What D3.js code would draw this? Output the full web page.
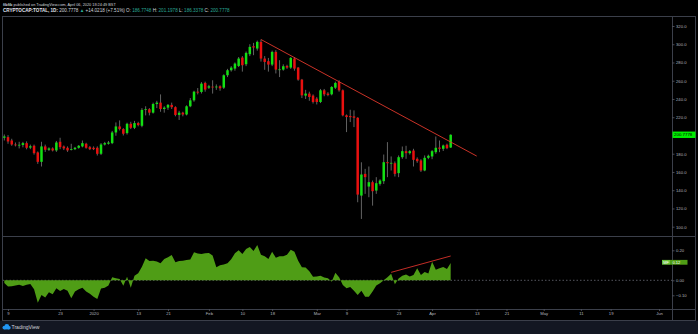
<!DOCTYPE html>
<html>
<head>
<meta charset="utf-8">
<script src="https://cdn.jsdelivr.net/npm/d3@7"></script>
<style>
html, body { margin: 0; padding: 0; background: #000; }
svg { display: block; font-family: "Liberation Sans", Arial, sans-serif; }
</style>
</head>
<body>
<div id="chart"></div>
<script>
// daily candles, first bar 2019-12-08 (UTC)
const firstDay = Date.UTC(2019, 11, 8);

const opens = [
197.5,198.2,194.5,190.1,189.4,189.6,191.6,186.7,188.7,181.4,
171.1,188.0,184.3,185.8,183.6,193.1,187.9,186.5,184.6,185.0,
186.5,188.0,190.9,187.2,186.5,186.5,179.9,190.1,190.9,191.6,
203.3,209.9,207.0,202.6,212.8,208.4,213.6,210.6,228.0,228.8,
225.0,234.5,236.0,229.0,230.5,233.5,231.0,222.5,225.0,223.0,
232.0,238.5,248.0,247.7,257.6,252.4,253.5,253.0,253.9,252.4,
266.0,271.5,273.3,276.2,285.4,278.1,289.1,297.8,295.3,302.6,
284.3,281.4,277.7,291.6,272.2,272.2,276.2,274.4,284.3,274.4,
261.2,243.7,245.9,243.7,240.4,236.7,249.5,245.9,245.1,252.4,
258.7,249.5,222.1,221.3,220.9,219.4,134.1,157.9,144.0,148.8,
139.6,146.9,149.9,170.7,169.6,169.6,158.7,176.2,182.8,180.6,
183.5,174.4,172.6,161.6,175.5,177.0,181.7,186.8,185.4,189.8,
186.7748];

const highs = [
201.1,200.4,196.4,192.3,193.1,193.0,193.5,190.0,190.0,182.5,
193.1,190.0,187.0,187.0,194.0,197.5,189.0,188.0,190.9,187.5,
189.5,194.5,192.0,188.5,188.0,188.0,191.6,193.0,194.0,205.0,
214.3,216.5,208.0,214.0,215.0,216.0,215.0,230.0,232.0,230.0,
236.0,238.0,245.0,232.0,234.5,236.0,232.0,227.0,226.0,233.0,
241.0,249.0,252.0,258.5,259.0,255.5,260.5,256.0,255.0,267.0,
273.0,276.0,280.0,286.0,287.0,292.0,300.0,301.5,304.0,305.2,
287.0,285.0,293.0,293.5,282.5,278.0,277.5,286.0,286.0,275.0,
262.0,250.0,248.0,245.0,242.0,251.0,251.0,247.5,254.0,259.0,
260.5,250.5,223.0,228.2,227.5,220.0,170.6,163.4,166.0,150.6,
154.3,152.0,179.1,192.7,177.0,171.5,178.1,187.9,188.7,184.0,
185.4,176.0,174.0,178.1,179.0,184.0,198.9,194.5,190.0,191.0,
201.1978];

const lows = [
194.5,190.9,188.7,188.0,185.8,187.0,184.8,185.0,179.0,168.9,
166.0,182.0,183.0,182.5,182.0,185.0,184.0,182.0,183.6,184.0,
185.5,187.0,185.5,184.0,184.0,178.0,178.5,189.0,190.0,190.5,
199.7,205.5,200.0,201.0,207.0,207.0,210.0,209.0,222.0,222.0,
224.0,230.0,226.0,225.0,228.0,229.0,221.0,217.0,221.0,222.0,
231.0,237.0,245.0,246.0,248.0,251.0,245.9,250.0,249.0,251.0,
264.0,270.0,271.0,275.0,270.0,276.0,287.0,288.0,293.0,281.0,
272.0,270.0,276.0,268.0,264.0,271.0,273.0,273.0,271.0,260.0,
241.0,240.0,238.0,235.0,234.0,235.5,243.0,243.0,244.0,251.0,
248.0,221.0,203.7,214.7,209.2,126.8,108.5,136.0,132.3,123.1,
136.0,145.0,146.9,154.3,161.6,155.0,154.3,174.4,174.4,179.0,
166.0,170.0,160.0,160.8,174.0,174.0,179.9,181.7,183.0,185.0,
186.3378];

const closes = [
198.9,193.4,190.1,189.4,189.8,191.6,186.5,188.2,180.6,171.1,
188.0,184.3,185.8,183.6,192.3,187.2,185.8,183.6,185.0,186.5,
188.7,191.6,186.5,185.0,185.0,179.9,190.1,191.6,192.3,203.3,
209.9,207.0,201.9,212.8,208.4,213.6,211.4,228.0,228.8,225.0,
234.5,236.0,229.0,230.5,233.5,231.0,222.5,225.0,223.0,232.0,
238.5,248.0,247.0,256.8,250.3,253.9,253.0,253.6,251.7,266.0,
271.5,274.4,278.8,284.3,277.0,290.5,297.1,296.4,302.6,284.3,
280.6,277.7,291.6,272.2,272.5,275.9,274.4,285.0,273.3,261.2,
244.0,245.9,242.2,236.7,236.7,249.5,245.1,244.4,253.2,257.6,
249.5,222.1,220.2,220.1,219.4,135.2,157.2,154.3,148.8,138.9,
147.7,150.6,170.7,169.6,170.0,157.9,176.2,182.8,180.6,182.8,
173.3,171.8,161.6,175.5,177.7,182.8,186.5,185.4,189.0,186.1,
200.7778];

// money flow oscillator, one value per bar
const flowValues = [
-0.018,-0.042,-0.040,-0.035,-0.030,-0.038,-0.030,-0.025,-0.060,-0.150,
-0.098,-0.115,-0.080,-0.093,-0.053,-0.071,-0.058,-0.070,-0.120,-0.075,
-0.060,-0.050,-0.075,-0.090,-0.110,-0.124,-0.055,-0.050,-0.035,0.020,
0.013,0.009,-0.036,0.024,-0.049,0.031,0.047,0.091,0.147,0.129,
0.130,0.126,0.113,0.142,0.153,0.169,0.120,0.128,0.130,0.136,
0.138,0.187,0.178,0.175,0.180,0.182,0.165,0.087,0.100,0.105,
0.113,0.140,0.180,0.200,0.175,0.209,0.222,0.195,0.236,0.170,
0.160,0.142,0.191,0.150,0.160,0.160,0.170,0.204,0.190,0.130,
0.087,0.085,0.060,0.024,0.025,0.030,0.018,0.013,-0.009,0.051,
0.020,-0.031,-0.053,-0.045,-0.070,-0.098,-0.070,-0.109,-0.109,-0.075,
-0.035,-0.020,0.000,0.020,0.044,-0.027,0.012,0.030,0.038,0.025,
0.035,0.080,0.035,0.055,0.045,0.124,0.070,0.080,0.088,0.075,
0.116];

const priceTicks = [320, 300, 280, 260, 240, 220, 180, 160, 140, 120, 100];
const flowTicks = [0.2, 0, -0.1];
const timeTicks = [
  ["2019-12-09", "9"], ["2019-12-23", "23"], ["2020-01-01", "2020"], ["2020-01-13", "13"],
  ["2020-01-21", "21"], ["2020-02-01", "Feb"], ["2020-02-10", "10"], ["2020-02-18", "18"],
  ["2020-03-01", "Mar"], ["2020-03-09", "9"], ["2020-03-23", "23"], ["2020-04-01", "Apr"],
  ["2020-04-13", "13"], ["2020-04-21", "21"], ["2020-05-01", "May"], ["2020-05-11", "11"],
  ["2020-05-19", "19"], ["2020-06-01", "Jun"]];
const trendLine = [["2020-02-15", 305.2], ["2020-04-13", 177.4]];
const flowTrend = [["2020-03-21", 0.053], ["2020-04-06", 0.162]];

const lastPrice = "200.7778", lastFlow = "0.12";

const width = 698, height = 334;
const left = 2.5, axisLine = 672.5, right = 695.5;
const mainTop = 16.5, mainBottom = 236.5, flowBottom = 309.5, timeBottom = 320.5;

const upColor = "#13e013", downColor = "#e8100f", wickColor = "#7b7b7b";
const gridColor = "#3b3f4a", textColor = "#b2b5be";
const hdText = "#d1d4dc", hdValue = "#2aa896";

const bars = closes.map((c, i) => ({
  date: new Date(firstDay + i * 864e5),
  open: opens[i], high: highs[i], low: lows[i], close: c, flow: flowValues[i]
}));

const x = d3.scaleUtc()
  .domain([new Date(firstDay), new Date("2020-06-01")])
  .range([4.3, 659.0]);
const y = d3.scaleLinear([100, 320], [226.7, 26]);
const yFlow = d3.scaleLinear([-0.1, 0.2], [295.3, 250.3]);

const svg = d3.select("#chart").append("svg")
  .attr("width", width).attr("height", height);

svg.append("rect").attr("width", width).attr("height", height).attr("fill", "#000");
svg.append("rect").attr("x", 0).attr("y", timeBottom).attr("width", width)
  .attr("height", height - timeBottom).attr("fill", "#131722");

const defs = svg.append("defs");
defs.append("clipPath").attr("id", "mainClip").append("rect")
  .attr("x", left).attr("y", mainTop).attr("width", axisLine - left).attr("height", mainBottom - mainTop);
defs.append("clipPath").attr("id", "flowClip").append("rect")
  .attr("x", left).attr("y", mainBottom).attr("width", axisLine - left).attr("height", flowBottom - mainBottom);

// header: segments laid out one after the other, font scaled to the wanted line width
function headerLine(parts, yPos, size, lineWidth) {
  const g = svg.append("g");
  const texts = parts.map(([t, c, w]) => g.append("text")
    .attr("y", yPos).attr("font-size", size).attr("fill", c)
    .attr("font-weight", w || "normal").attr("xml:space", "preserve").text(t));
  const total = d3.sum(texts, t => t.node().getComputedTextLength());
  const k = lineWidth / total;
  let cx = 3;
  texts.forEach(t => {
    t.attr("font-size", size * k).attr("x", cx);
    cx += t.node().getComputedTextLength();
  });
}
headerLine([["fibfib", hdText, "bold"], [" published on TradingView.com, April 06, 2020 18:24:49 BST", hdText]],
  6, 4.6, 113);
headerLine([["CRYPTOCAP:TOTAL, 1D: ", "#e0e3eb", "bold"], ["200.7778 ", hdText], ["▲ ", hdValue],
  ["+14.0218 (+7.51%) ", hdText], ["O: ", hdText], ["186.7748 ", hdValue],
  ["H: ", hdText], ["201.1978 ", hdValue], ["L: ", hdText], ["186.3378 ", hdValue],
  ["C: ", hdText], ["200.7778", hdValue]], 12.4, 5, 227);

// candles
const candles = svg.append("g").attr("clip-path", "url(#mainClip)");
const bodyW = 2.5;
candles.selectAll("line.wick").data(bars).join("line")
  .classed("wick", true)
  .attr("x1", d => x(d.date)).attr("x2", d => x(d.date))
  .attr("y1", d => y(d.high)).attr("y2", d => y(d.low))
  .attr("stroke", wickColor).attr("stroke-width", 0.8);
candles.selectAll("rect.body").data(bars).join("rect")
  .classed("body", true)
  .attr("x", d => x(d.date) - bodyW / 2).attr("width", bodyW)
  .attr("y", d => y(Math.max(d.open, d.close)))
  .attr("height", d => Math.max(0.8, Math.abs(y(d.open) - y(d.close))))
  .attr("fill", d => d.close >= d.open ? upColor : downColor);

candles.append("line")
  .attr("x1", x(new Date(trendLine[0][0]))).attr("y1", y(trendLine[0][1]))
  .attr("x2", x(new Date(trendLine[1][0]))).attr("y2", y(trendLine[1][1]))
  .attr("stroke", "#e0382b").attr("stroke-width", 0.9);

// oscillator pane
const flowPane = svg.append("g").attr("clip-path", "url(#flowClip)");
flowPane.append("line").attr("x1", left).attr("x2", axisLine)
  .attr("y1", yFlow(0)).attr("y2", yFlow(0))
  .attr("stroke", "#787b86").attr("stroke-width", 0.7).attr("stroke-dasharray", "1.5,2");
flowPane.append("path").datum(bars)
  .attr("d", d3.area().x(d => x(d.date)).y0(yFlow(0)).y1(d => yFlow(d.flow)))
  .attr("fill", "#4f9d16");
flowPane.append("line")
  .attr("x1", x(new Date(flowTrend[0][0]))).attr("y1", yFlow(flowTrend[0][1]))
  .attr("x2", x(new Date(flowTrend[1][0]))).attr("y2", yFlow(flowTrend[1][1]))
  .attr("stroke", "#d8322a").attr("stroke-width", 0.9);

// frame
const frame = svg.append("g").attr("stroke", gridColor).attr("stroke-width", 1).attr("fill", "none");
frame.append("rect").attr("x", left).attr("y", mainTop)
  .attr("width", right - left).attr("height", timeBottom - mainTop);
frame.append("line").attr("x1", left).attr("x2", right).attr("y1", mainBottom).attr("y2", mainBottom);
frame.append("line").attr("x1", left).attr("x2", right).attr("y1", flowBottom).attr("y2", flowBottom);
frame.append("line").attr("x1", axisLine).attr("x2", axisLine).attr("y1", mainTop).attr("y2", timeBottom);

// axes
const priceAxis = svg.append("g").attr("transform", `translate(${axisLine},0)`)
  .call(d3.axisRight(y).tickValues(priceTicks).tickSize(2).tickPadding(1.5).tickFormat(d => d.toFixed(1)));
const flowAxis = svg.append("g").attr("transform", `translate(${axisLine},0)`)
  .call(d3.axisRight(yFlow).tickValues(flowTicks).tickSize(2).tickPadding(1.5).tickFormat(d3.format(".2f")));
const timeAxis = svg.append("g").attr("transform", `translate(0,${flowBottom})`)
  .call(d3.axisBottom(x).tickValues(timeTicks.map(t => new Date(t[0]))).tickSize(1.5).tickPadding(1.5)
    .tickFormat((d, i) => timeTicks[i][1]));
[priceAxis, flowAxis, timeAxis].forEach(a => {
  a.select(".domain").remove();
  a.selectAll(".tick line").attr("stroke", "#787b86").attr("stroke-width", 0.6);
  a.selectAll(".tick text").attr("fill", textColor).attr("font-size", 4.2).attr("font-family", null);
});

// last value labels
const yLast = y(+lastPrice);
svg.append("rect").attr("x", axisLine).attr("y", yLast - 3.2).attr("width", 23).attr("height", 6.4)
  .attr("fill", "#00ee00");
svg.append("text").attr("x", axisLine + 1.5).attr("y", yLast + 1.5)
  .attr("font-size", 4.4).attr("fill", "#000").text(lastPrice);

const yLF = yFlow(+lastFlow);
svg.append("rect").attr("x", 662).attr("y", yLF - 2.4).attr("width", 8).attr("height", 4.8)
  .attr("fill", "#6cc23a");
svg.append("text").attr("x", 663.3).attr("y", yLF + 1.4).attr("font-size", 3.8).attr("fill", "#fff").text("MF");
svg.append("rect").attr("x", 670).attr("y", yLF - 2.4).attr("width", 17.5).attr("height", 4.8)
  .attr("fill", "#4f9d16");
svg.append("text").attr("x", 672.5).attr("y", yLF + 1.4).attr("font-size", 4).attr("fill", "#fff").text(lastFlow);

// footer logo
const logo = svg.append("g").attr("transform", "translate(2,324)").attr("fill", "#2196f3");
logo.append("circle").attr("cx", 2.4).attr("cy", 3.6).attr("r", 1.9);
logo.append("circle").attr("cx", 4.8).attr("cy", 2.4).attr("r", 2.4);
logo.append("circle").attr("cx", 7.0).attr("cy", 3.7).attr("r", 1.7);
logo.append("rect").attr("x", 2.4).attr("y", 3.6).attr("width", 4.6).attr("height", 1.8);
svg.append("text").attr("x", 11.5).attr("y", 329).attr("font-size", 5).attr("fill", "#d1d4dc")
  .attr("textLength", 28).attr("lengthAdjust", "spacingAndGlyphs").text("TradingView");
</script>
</body>
</html>
